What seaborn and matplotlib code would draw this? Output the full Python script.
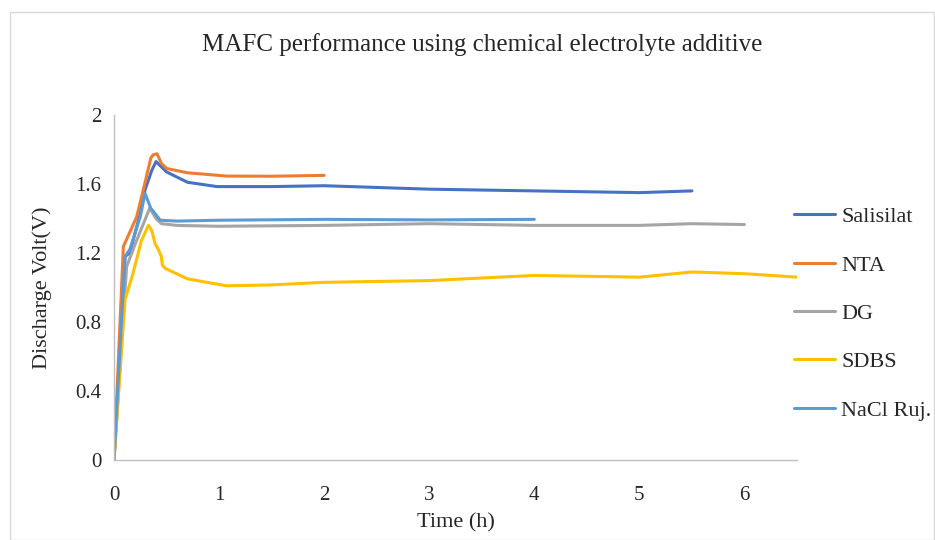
import matplotlib
matplotlib.use("Agg")
import matplotlib.pyplot as plt
import seaborn as sns
import pandas as pd
from matplotlib.patches import Rectangle

sal_t = [0, 0.105, 0.15, 0.25, 0.295, 0.36, 0.4, 0.45, 0.5, 0.7, 0.98, 1.5, 2, 3, 4, 5, 5.5]
sal_v = [0, 1.18, 1.2, 1.43, 1.565, 1.68, 1.73, 1.70, 1.67, 1.61, 1.585, 1.585, 1.59, 1.57, 1.56, 1.55, 1.56]

nta_t = [0, 0.089, 0.216, 0.3, 0.35, 0.374, 0.41, 0.45, 0.5, 0.7, 1.07, 1.5, 2]
nta_v = [0, 1.237, 1.41, 1.62, 1.75, 1.77, 1.775, 1.72, 1.69, 1.665, 1.646, 1.645, 1.65]

dg_t = [0, 0.12, 0.2, 0.34, 0.4, 0.45, 0.6, 0.98, 2, 3, 4, 5, 5.5, 6]
dg_v = [0, 1.12, 1.25, 1.46, 1.40, 1.37, 1.36, 1.355, 1.36, 1.37, 1.36, 1.36, 1.37, 1.365]

sdbs_t = [0, 0.105, 0.18, 0.26, 0.327, 0.36, 0.39, 0.43, 0.45, 0.46, 0.49, 0.7, 1.07, 1.5, 2, 3, 4, 5, 5.5, 6, 6.5]
sdbs_v = [0, 0.93, 1.08, 1.27, 1.36, 1.33, 1.256, 1.21, 1.18, 1.13, 1.11, 1.05, 1.01, 1.015, 1.03, 1.04, 1.07, 1.06, 1.09, 1.08, 1.06]

nacl_t = [0, 0.105, 0.15, 0.25, 0.295, 0.35, 0.44, 0.6, 1, 2, 3, 4]
nacl_v = [0, 1.18, 1.22, 1.41, 1.546, 1.46, 1.39, 1.385, 1.39, 1.395, 1.392, 1.395]

series_names = ["Salisilat", "NTA", "DG", "SDBS", "NaCl Ruj."]
colors = ["#4472C4", "#ED7D31", "#A5A5A5", "#FFC000", "#5B9BD5"]
x_ticks = [0, 1, 2, 3, 4, 5, 6]
y_ticks = [0, 0.4, 0.8, 1.2, 1.6, 2]
y_labels = ["0", "0.4", "0.8", "1.2", "1.6", "2"]

frames = []
for name, t, v in zip(series_names, [sal_t, nta_t, dg_t, sdbs_t, nacl_t],
                      [sal_v, nta_v, dg_v, sdbs_v, nacl_v]):
    frames.append(pd.DataFrame({"Time": t, "Volt": v, "Series": name}))
df = pd.concat(frames, ignore_index=True)

sns.set_style("white")
plt.rcParams['font.family'] = ['Liberation Serif', 'DejaVu Serif']

fig = plt.figure(figsize=(9.35, 5.4), dpi=100)
ax = fig.add_axes([114/935, 80/540, (797-114)/935, (460-115)/540])

sns.lineplot(data=df, x="Time", y="Volt", hue="Series", hue_order=series_names,
             palette=colors, sort=False, estimator=None, linewidth=2.2, ax=ax)

ax.set_xlim(0, 6.5)
ax.set_ylim(0, 2)
ax.set_xticks(x_ticks)
ax.set_xticklabels([str(x) for x in x_ticks], fontsize=15)
ax.set_yticks(y_ticks)
ax.set_yticklabels(y_labels, fontsize=15)
ax.tick_params(axis="y", length=0, pad=9)
ax.tick_params(axis="x", length=0, pad=19)
for s in ["top", "right"]:
    ax.spines[s].set_visible(False)
for s in ["left", "bottom"]:
    ax.spines[s].set_color("#BFBFBF")
    ax.spines[s].set_linewidth(1.0)
ax.set_xlabel("Time (h)", fontsize=16, labelpad=6)
ax.set_ylabel("Discharge Volt(V)", fontsize=16, labelpad=17)

fig.text(482/935, 1 - 45/540, "MAFC performance using chemical electrolyte additive",
         ha="center", va="center", fontsize=18)

handles, labels = ax.get_legend_handles_labels()
ax.get_legend().remove()
fig.legend(handles, labels, loc="upper left", bbox_to_anchor=(787/935, 1 - 200/540),
           frameon=False, fontsize=16, handlelength=1.85, labelspacing=1.25,
           handletextpad=0.3, borderaxespad=0, borderpad=0.3)

fig.patches.append(Rectangle((10/935, 0), 1 - 10/935 - 1/935, 1 - 12/540,
                             transform=fig.transFigure, fill=False,
                             edgecolor="#D9D9D9", linewidth=1))

fig.savefig("out.png", dpi=100)
